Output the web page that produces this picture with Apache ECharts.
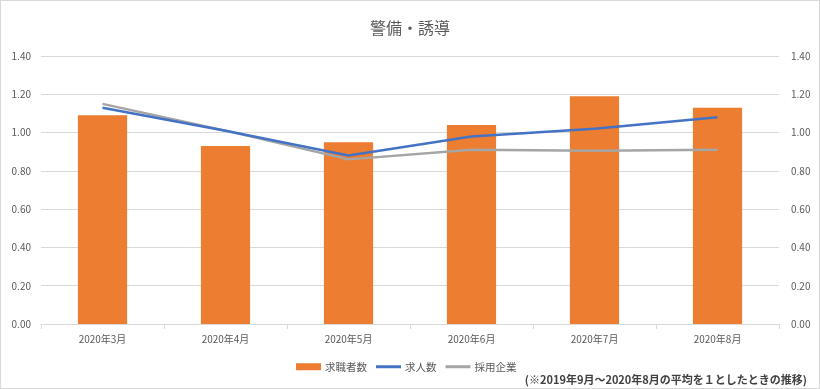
<!DOCTYPE html>
<html><head><meta charset="utf-8">
<script src="https://cdn.jsdelivr.net/npm/echarts@6/dist/echarts.min.js"></script>
<style>html,body{margin:0;padding:0;background:#fff}#c{width:820px;height:389px;box-sizing:border-box;border:1px solid #d9d9d9}</style>
</head><body><div id="c"></div>
<script>
const categories = ['2020年3月','2020年4月','2020年5月','2020年6月','2020年7月','2020年8月'];
const seekers = [1.09, 0.93, 0.95, 1.04, 1.19, 1.13];
const openings = [1.13, 1.01, 0.88, 0.98, 1.02, 1.08];
const employers = [1.15, 1.01, 0.86, 0.91, 0.905, 0.91];
const yTicks = ['0.00','0.20','0.40','0.60','0.80','1.00','1.20','1.40'];
const font = '"Noto Sans CJK JP", sans-serif';
const chart = echarts.init(document.getElementById('c'));
const yAx = (pos, grid) => ({
  type:'value', position:pos, min:0, max:1.4, interval:0.2,
  axisLine:{show:false}, axisTick:{show:false},
  axisLabel:{color:'#595959', fontSize:10, fontFamily:font, margin: pos==='left'?10:12,
    formatter:v=>yTicks[Math.round(v/0.2)]},
  splitLine:{show:grid, lineStyle:{color:'#d9d9d9', width:1}}
});
const lineIcon = 'path://M0,0H25V3H0Z';
chart.setOption({
  animation:false,
  title:{text:'警備・誘導', left:'center', top:14, textStyle:{color:'#595959', fontSize:16, fontWeight:'normal', fontFamily:font}},
  grid:{left:40, right:40, top:55, bottom:64},
  xAxis:{type:'category', data:categories, axisLine:{lineStyle:{color:'#d9d9d9'}},
    axisTick:{show:true, length:5, lineStyle:{color:'#d9d9d9'}},
    axisLabel:{color:'#595959', fontSize:10, fontFamily:font, margin:10}},
  yAxis:[yAx('left', true), yAx('right', false)],
  legend:{bottom:11, left:290, itemGap:9, itemWidth:25, itemHeight:7,
    textStyle:{color:'#595959', fontSize:10.5, fontFamily:font, padding:[0,0,0,-1]},
    data:[{name:'求職者数', icon:'rect'},{name:'求人数', icon:lineIcon},{name:'採用企業', icon:lineIcon}]},
  graphic:[{type:'text', right:12, bottom:3, style:{text:'(※2019年9月～2020年8月の平均を１としたときの推移)', fill:'#404040', font:'bold 11px '+font}}],
  series:[
    {name:'求職者数', type:'bar', data:seekers, barWidth:'40%', itemStyle:{color:'#ED7D31'}},
    {name:'採用企業', type:'line', data:employers, symbol:'none', lineStyle:{color:'#A5A5A5', width:2.5}, itemStyle:{color:'#A5A5A5'}},
    {name:'求人数', type:'line', data:openings, symbol:'none', lineStyle:{color:'#4472C4', width:2.5}, itemStyle:{color:'#4472C4'}}
  ]
});
</script></body></html>
